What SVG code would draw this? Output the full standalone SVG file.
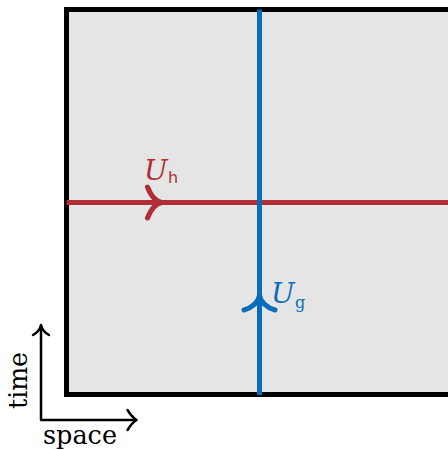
<svg xmlns="http://www.w3.org/2000/svg" width="448" height="450" viewBox="0 0 448 450">
  <style>
    .red { stroke: #B02E35; fill: none; stroke-width: 5; }
    .blue { stroke: #0A6DBB; fill: none; stroke-width: 5; }
    .axis { stroke: #000; fill: none; stroke-width: 2.5; stroke-linecap: round; stroke-linejoin: round; }
    .head { stroke-linecap: round; stroke-linejoin: round; }
    .lbl { font-family: 'DejaVu Serif', serif; font-size: 26px; }
    .sym { font-family: 'DejaVu Serif', serif; font-style: italic; font-size: 28px; }
    .sub { font-family: 'DejaVu Serif', serif; font-size: 16px; }
    .subs { font-family: 'DejaVu Sans', sans-serif; font-size: 16px; }
  </style>
  <g id="region">
    <rect x="66.5" y="9.5" width="400" height="385" fill="#E5E5E5" stroke="#000" stroke-width="5"/>
  </g>
  <g id="connectors">
    <g id="worldline-h">
      <line class="red" x1="66.5" y1="202.5" x2="448" y2="202.5"/>
      <path class="red head" d="M147.5,187 C151,196 156,201.5 162,202.5 C156,203.5 151,209 147.5,218"/>
    </g>
    <g id="worldline-g">
      <line class="blue" x1="259.5" y1="9.5" x2="259.5" y2="395"/>
      <path class="blue head" d="M244,310 C252,308 258.5,302 259.5,295.5 C260.5,302 267,308 275,310"/>
    </g>
    <g id="axes">
      <path class="axis" d="M41,326 L41,420 L136,420"/>
      <path class="axis" d="M33,335 C37,333 40,329 41,325 C42,329 45,333 49,335"/>
      <path class="axis" d="M127.5,410 C130,414 133,418 136.5,420 C133,422 130,426 127.5,430"/>
    </g>
  </g>
  <g id="label-h">
    <text class="sym" x="144" y="180" fill="#B02E35">U</text>
    <text class="subs" x="168" y="183" fill="#B02E35">h</text>
  </g>
  <g id="label-g">
    <text class="sym" x="271" y="303" fill="#0A6DBB">U</text>
    <text class="sub" x="295" y="308" fill="#0A6DBB">g</text>
  </g>
  <g id="axis-labels">
    <text class="lbl" transform="translate(27,409) rotate(-90)" textLength="57" lengthAdjust="spacingAndGlyphs">time</text>
    <text class="lbl" x="43" y="444" textLength="74" lengthAdjust="spacingAndGlyphs">space</text>
  </g>
</svg>
